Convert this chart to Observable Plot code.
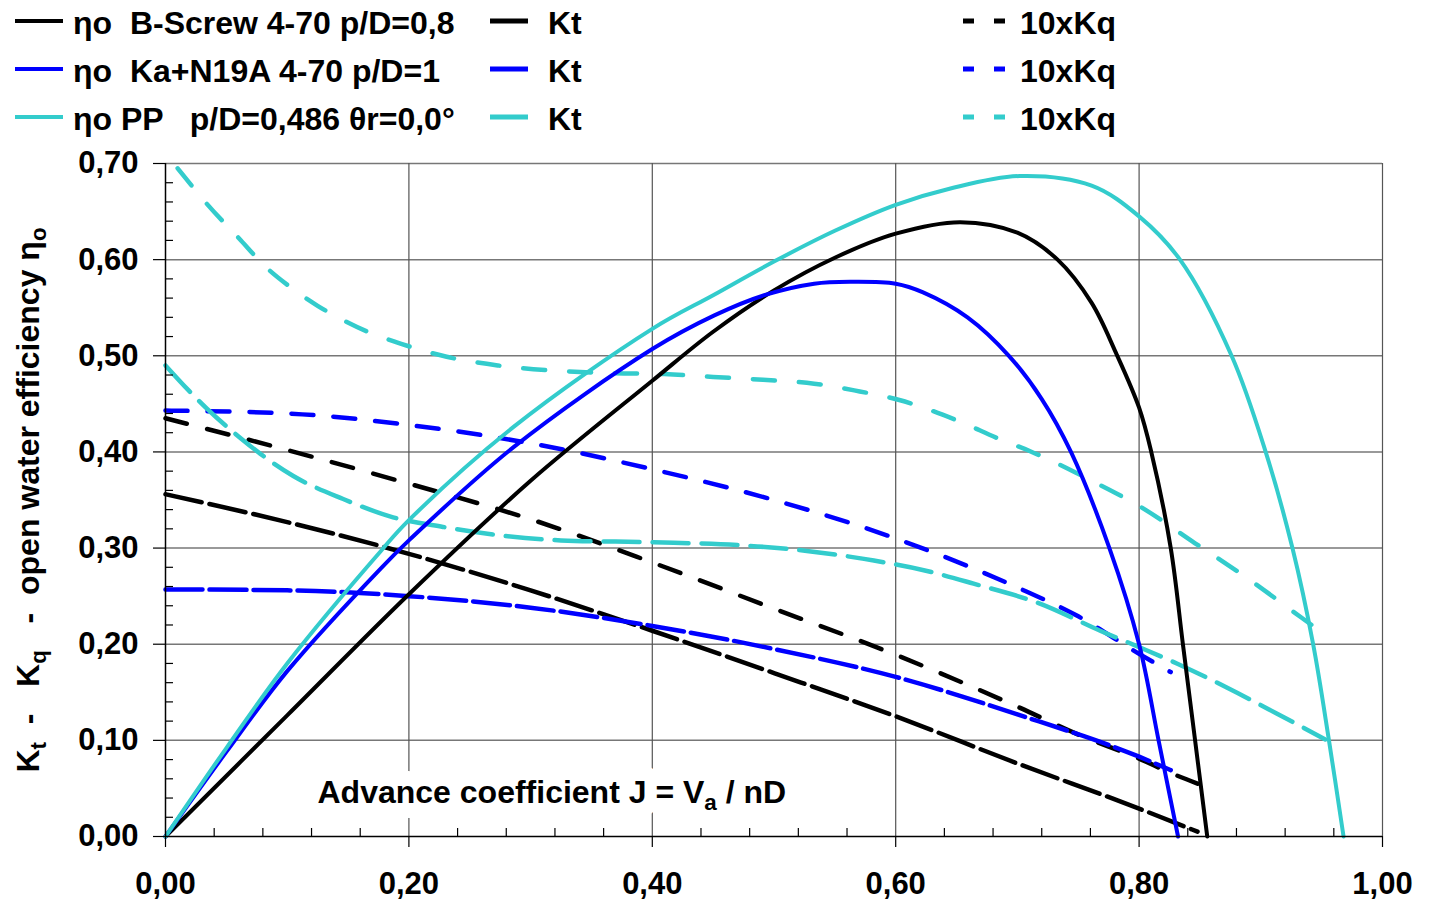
<!DOCTYPE html>
<html><head><meta charset="utf-8">
<script src="https://cdn.jsdelivr.net/npm/d3@7"></script>
<script src="https://cdn.jsdelivr.net/npm/@observablehq/plot@0.6"></script>
<style>
body{margin:0;background:#fff;font-family:"Liberation Sans",Arial,sans-serif;}
svg{display:block}
</style></head><body>
<svg id="legend" width="1432" height="140"></svg>
<div id="chart"></div>
<script>
// ---------- data ----------
const xTicks = [0, 0.2, 0.4, 0.6, 0.8, 1.0];
const yTicks = [0, 0.1, 0.2, 0.3, 0.4, 0.5, 0.6, 0.7];

// B-Screw 4-70 p/D=0,8 (black)
const bEtaJ = [0, 0.1, 0.2, 0.3, 0.4, 0.45, 0.5, 0.55, 0.6, 0.653, 0.7, 0.733, 0.761, 0.781, 0.8, 0.81, 0.826, 0.836, 0.846, 0.856];
const bEtaV = [0, 0.126, 0.252, 0.37, 0.474, 0.525, 0.568, 0.602, 0.627, 0.639, 0.628, 0.600, 0.555, 0.503, 0.446, 0.400, 0.300, 0.200, 0.100, 0];
const bKtJ = [0, 0.1, 0.2, 0.3, 0.4, 0.5, 0.6, 0.7, 0.8, 0.848];
const bKtV = [0.356, 0.327, 0.294, 0.256, 0.214, 0.170, 0.125, 0.076, 0.029, 0.005];
const bKqJ = [0, 0.1, 0.2, 0.3, 0.4, 0.5, 0.6, 0.7, 0.75, 0.8, 0.828, 0.848];
const bKqV = [0.435, 0.402, 0.367, 0.330, 0.285, 0.237, 0.189, 0.135, 0.106, 0.081, 0.065, 0.055];

// Ka+N19A 4-70 p/D=1 (blue)
const nEtaJ = [0, 0.05, 0.1, 0.177, 0.2, 0.286, 0.4, 0.451, 0.492, 0.533, 0.563, 0.6, 0.6225, 0.659, 0.693, 0.72, 0.744, 0.7756, 0.8, 0.816, 0.832];
const nEtaV = [0, 0.088, 0.172, 0.279, 0.308, 0.405, 0.507, 0.542, 0.563, 0.575, 0.577, 0.575, 0.566, 0.540, 0.500, 0.455, 0.400, 0.300, 0.200, 0.100, 0];
const nKtJ = [0, 0.1, 0.2, 0.3, 0.4, 0.5, 0.6, 0.7, 0.8, 0.826];
const nKtV = [0.257, 0.256, 0.250, 0.238, 0.219, 0.195, 0.166, 0.127, 0.083, 0.069];
const nKqJ = [0, 0.1, 0.2, 0.3, 0.4, 0.5, 0.6, 0.7, 0.75, 0.8, 0.826];
const nKqV = [0.443, 0.440, 0.428, 0.409, 0.382, 0.350, 0.310, 0.259, 0.229, 0.190, 0.171];

// PP p/D=0,486 (turquoise)
const pEtaJ = [0, 0.05, 0.1, 0.177, 0.2, 0.286, 0.4, 0.45, 0.5, 0.55, 0.6, 0.645, 0.702, 0.761, 0.8, 0.8336, 0.876, 0.904, 0.926, 0.943, 0.956, 0.968];
const pEtaV = [0, 0.092, 0.180, 0.297, 0.329, 0.426, 0.528, 0.563, 0.598, 0.630, 0.657, 0.674, 0.687, 0.677, 0.645, 0.600, 0.500, 0.400, 0.300, 0.200, 0.100, 0];
const pKtJ = [0, 0.019, 0.034, 0.062, 0.078, 0.105, 0.146, 0.187, 0.228, 0.27, 0.325, 0.401, 0.472, 0.527, 0.582, 0.623, 0.664, 0.719, 0.768, 0.8, 0.831, 0.872, 0.913, 0.953];
const pKtV = [0.49, 0.464, 0.445, 0.414, 0.398, 0.375, 0.351, 0.332, 0.322, 0.314, 0.308, 0.306, 0.303, 0.297, 0.287, 0.277, 0.263, 0.242, 0.214, 0.197, 0.180, 0.155, 0.128, 0.101];
const pKqJ = [0.01, 0.034, 0.062, 0.081, 0.103, 0.125, 0.146, 0.166, 0.19, 0.231, 0.273, 0.314, 0.368, 0.41, 0.45, 0.491, 0.533, 0.566, 0.603, 0.648, 0.688, 0.710, 0.761, 0.801, 0.846, 0.892, 0.933, 0.956];
const pKqV = [0.695, 0.658, 0.620, 0.594, 0.571, 0.552, 0.537, 0.525, 0.514, 0.499, 0.490, 0.485, 0.482, 0.481, 0.478, 0.475, 0.471, 0.464, 0.454, 0.434, 0.412, 0.401, 0.370, 0.343, 0.305, 0.266, 0.228, 0.207];

const colors = {black: "#000000", blue: "#0000ff", turq: "#33cccc"};
const etaLabels = ["ηo  B-Screw 4-70 p/D=0,8", "ηo  Ka+N19A 4-70 p/D=1", "ηo PP   p/D=0,486 θr=0,0°"];
const ktLabel = "Kt";
const kqLabel = "10xKq";
const xTitleParts = [["Advance coefficient J = V", false], ["a", true], [" / nD", false]];
const yTitleParts = [["K", false], ["t", true], ["  -   K", false], ["q", true], ["   -  open water efficiency η", false], ["o", true]];

// ---------- styles ----------
const FONT = "'Liberation Sans', Arial, sans-serif";
const etaStyle = {strokeWidth: 4};
const ktStyle = {strokeWidth: 4.5};
const kqStyle = {strokeWidth: 4.5};
const dashKt = {black: "37,8", blue: "37,7", turq: "36,13"};
const dashKq = {black: "22,21", blue: "22,20", turq: "22,24"};

const toRows = (J, V) => J.map((j, i) => ({J: j, v: V[i]}));
const groups = [
  {c: "black", eta: toRows(bEtaJ, bEtaV), kt: toRows(bKtJ, bKtV), kq: toRows(bKqJ, bKqV)},
  {c: "blue", eta: toRows(nEtaJ, nEtaV), kt: toRows(nKtJ, nKtV), kq: toRows(nKqJ, nKqV)},
  {c: "turq", eta: toRows(pEtaJ, pEtaV), kt: toRows(pKtJ, pKtV), kq: toRows(pKqJ, pKqV)}
];

// ---------- legend ----------
const leg = d3.select("#legend").attr("font-family", FONT).attr("font-weight", "bold").attr("font-size", 32);
const rowY = [21, 69, 117];
groups.forEach((g, i) => {
  const col = colors[g.c], y = rowY[i];
  leg.append("line").attr("x1", 15).attr("x2", 63).attr("y1", y).attr("y2", y).attr("stroke", col).attr("stroke-width", 4);
  leg.append("text").attr("x", 73).attr("y", y + 12.5).attr("xml:space", "preserve").style("white-space", "pre").text(etaLabels[i]);
  leg.append("line").attr("x1", 490).attr("x2", 528).attr("y1", y).attr("y2", y).attr("stroke", col).attr("stroke-width", 5);
  leg.append("text").attr("x", 548).attr("y", y + 12.5).text(ktLabel);
  leg.append("line").attr("x1", 963).attr("x2", 1006).attr("y1", y).attr("y2", y).attr("stroke", col).attr("stroke-width", 5).attr("stroke-dasharray", "11,20");
  leg.append("text").attr("x", 1020).attr("y", y + 12.5).text(kqLabel);
});

// ---------- chart ----------
const fmt = d => d.toFixed(2).replace(".", ",");
const xMinor = d3.range(0.04, 1.0, 0.04).filter(d => Math.abs(d / 0.2 - Math.round(d / 0.2)) > 1e-6);
const yMinor = d3.range(0.02, 0.7, 0.02).filter(d => Math.abs(d / 0.1 - Math.round(d / 0.1)) > 1e-6);

const lineMarks = [];
groups.forEach(g => {
  const col = colors[g.c];
  lineMarks.push(Plot.line(g.kq, {x: "J", y: "v", stroke: col, ...kqStyle, strokeDasharray: dashKq[g.c], curve: "monotone-x"}));
  lineMarks.push(Plot.line(g.kt, {x: "J", y: "v", stroke: col, ...ktStyle, strokeDasharray: dashKt[g.c], curve: "monotone-x"}));
});
groups.forEach(g => {
  lineMarks.push(Plot.line(g.eta, {x: "J", y: "v", stroke: colors[g.c], ...etaStyle, curve: "catmull-rom"}));
});

const xTitleText = xTitleParts.map(p => p[0]).join("");
const xTitleOpts = {frameAnchor: "bottom-left", dx: 152, dy: -44, textAnchor: "start", lineAnchor: "middle", fontSize: 32, fontWeight: "bold"};

const chart = Plot.plot({
  width: 1432,
  height: 762,
  marginTop: 23,
  marginBottom: 66,
  marginLeft: 165,
  marginRight: 50,
  style: {fontFamily: FONT, fontWeight: "bold", background: "#fff", color: "#000"},
  x: {domain: [0, 1], label: null},
  y: {domain: [0, 0.7], label: null},
  marks: [
    Plot.gridY(yTicks.filter(d => d > 0), {stroke: "#777", strokeOpacity: 1, strokeWidth: 1.5}),
    Plot.gridX(xTicks.filter(d => d > 0), {stroke: "#555", strokeOpacity: 1, strokeWidth: 1.2}),
    Plot.text([xTitleText], {...xTitleOpts, fill: "#fff", stroke: "#fff", strokeWidth: 30, strokeLinejoin: "round", className: "xhalo"}),
    Plot.text([xTitleText], {...xTitleOpts, fill: "#000", className: "xtitle"}),
    ...lineMarks,
    Plot.tickY(yMinor, {y: d => d, stroke: "#000", strokeWidth: 1.2, insetRight: 1209}),
    Plot.tickX(xMinor, {x: d => d, stroke: "#000", strokeWidth: 1.2, insetTop: 665}),
    Plot.ruleX([0], {stroke: "#000", strokeWidth: 1.5}),
    Plot.ruleY([0], {stroke: "#000", strokeWidth: 1.5}),
    Plot.axisY(yTicks, {tickSize: 12, tickPadding: 15, tickFormat: fmt, fontSize: 31, fontWeight: "bold", label: null, strokeWidth: 1.2}),
    Plot.axisX(xTicks, {tickSize: 11, tickPadding: 24, tickFormat: fmt, fontSize: 31, fontWeight: "bold", label: null, strokeWidth: 1.2}),
    Plot.text([yTitleParts.map(p => p[0]).join("")], {
      frameAnchor: "left", dx: -137, rotate: -90, textAnchor: "middle", lineAnchor: "middle",
      fontSize: 32, fontWeight: "bold", fill: "#000", className: "ytitle"
    })
  ]
});
document.getElementById("chart").appendChild(chart);

// rich text (subscripts) for the titles
function richText(sel, parts, fs) {
  const t = d3.select(chart).select(sel).select("text");
  t.text(null).attr("xml:space", "preserve").style("white-space", "pre");
  let shifted = false;
  parts.forEach(([s, sub]) => {
    const ts = t.append("tspan").text(s);
    if (sub && !shifted) { ts.attr("dy", fs * 0.22).attr("font-size", fs * 0.7); shifted = true; }
    else if (!sub && shifted) { ts.attr("dy", -fs * 0.22); shifted = false; }
    else if (sub) ts.attr("font-size", fs * 0.7);
  });
}
richText(".xhalo", xTitleParts, 32);
richText(".xtitle", xTitleParts, 32);
richText(".ytitle", yTitleParts, 32);
</script></body></html>
